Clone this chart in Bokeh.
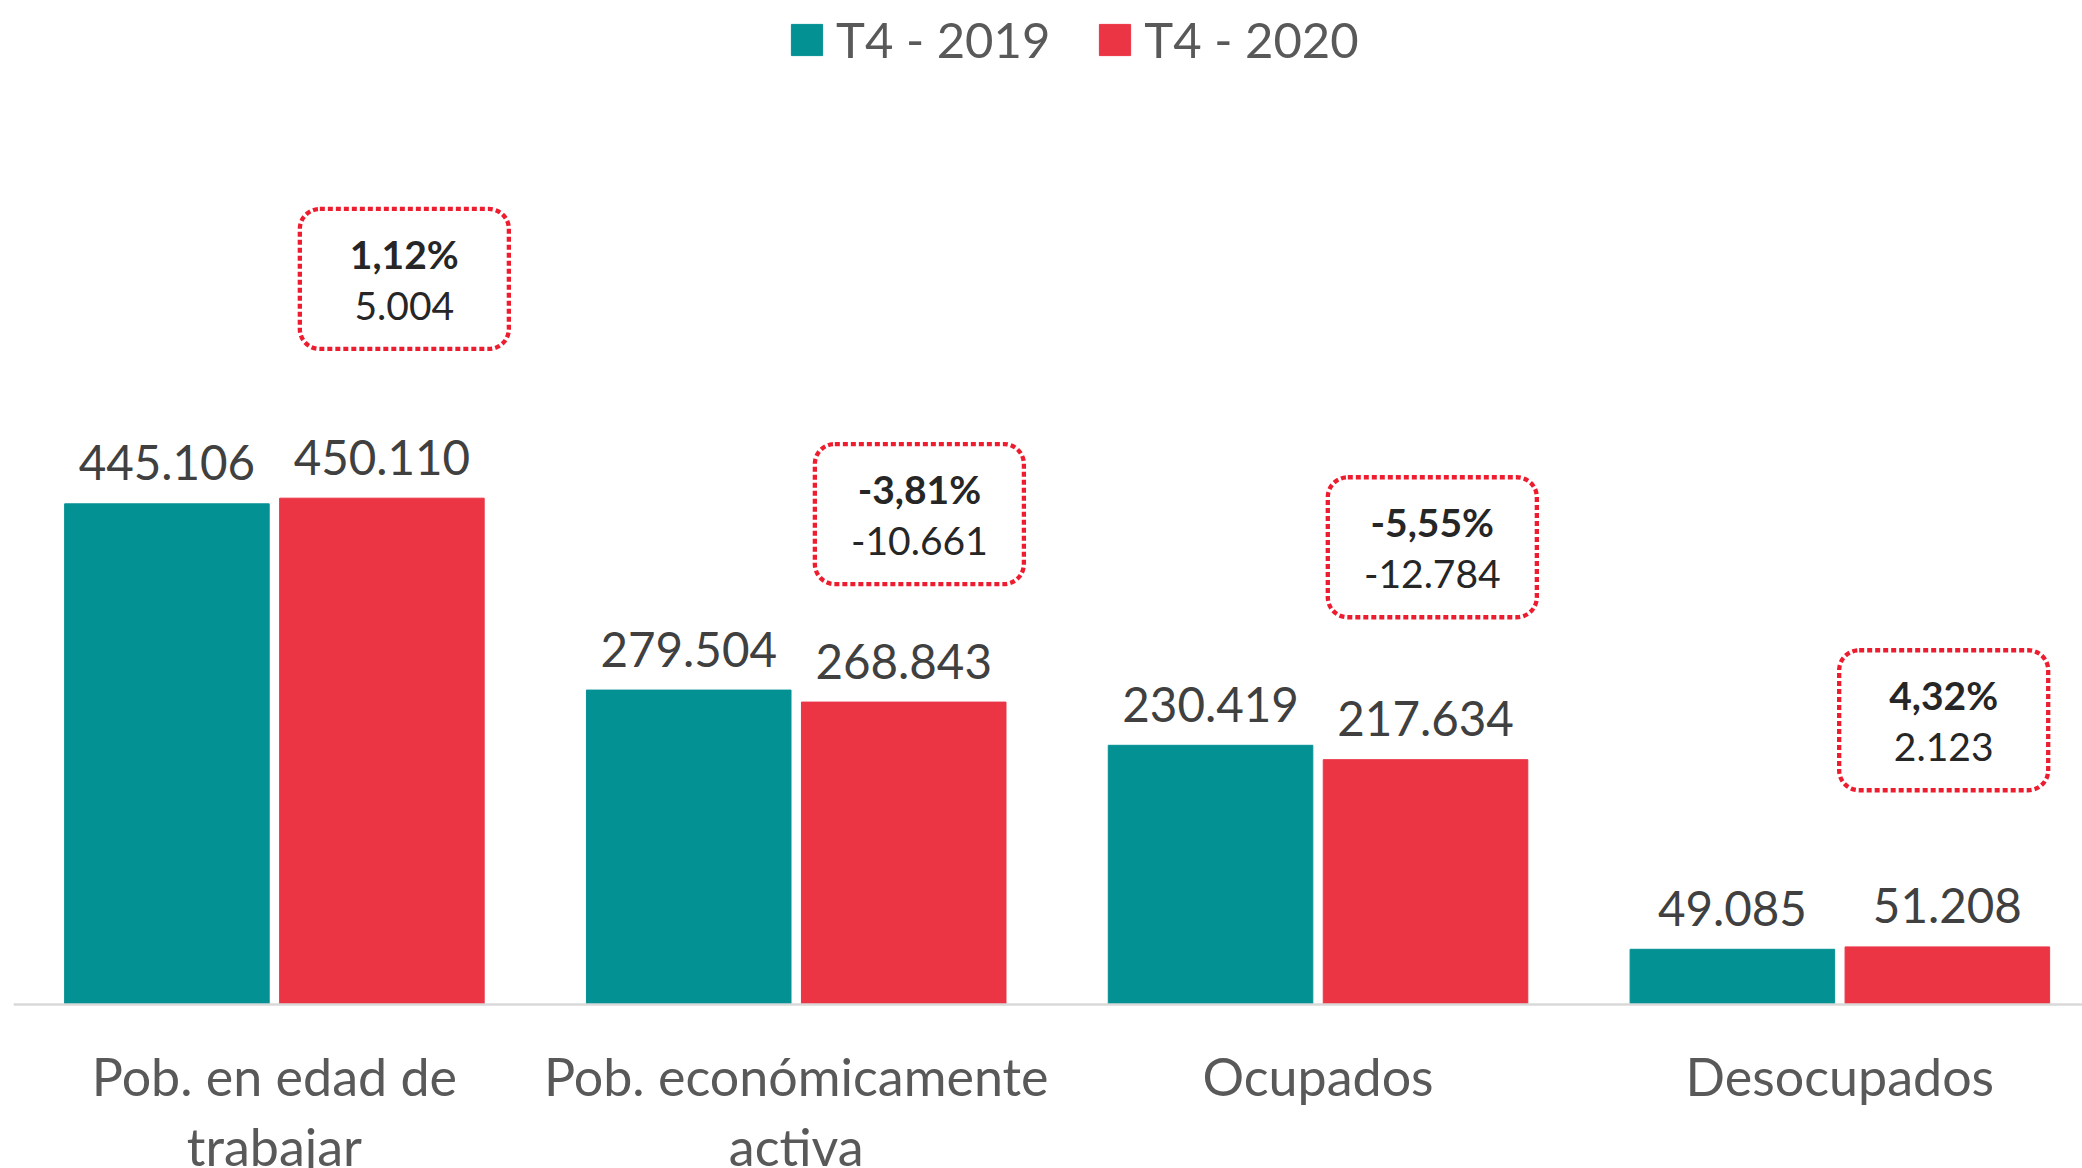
from bokeh.plotting import figure
from bokeh.models import (Range1d, FixedTicker, BoxAnnotation, ColumnDataSource,
                          Legend, LegendItem)
from bokeh.transform import dodge
from bokeh.core.properties import value
from bokeh.embed import file_html
from bokeh.resources import INLINE

# ---------------- data ----------------
categories = ["Pob. en edad de\ntrabajar", "Pob. económicamente\nactiva", "Ocupados", "Desocupados"]
series_names = ["T4 - 2019", "T4 - 2020"]
t4_2019 = [445106, 279504, 230419, 49085]
t4_2020 = [450110, 268843, 217634, 51208]
pct_change = ["1,12%", "-3,81%", "-5,55%", "4,32%"]
abs_change = ["5.004", "-10.661", "-12.784", "2.123"]

# ---------------- layout (annotation box placement) ----------------
box_x = [0.749, 1.736, 2.719, 3.699]
box_y = [645000, 436000, 406500, 252700]
BOX_HALF_W = 0.2003
BOX_HALF_H = 62230

TEAL = "#049194"
RED = "#EB3545"
DOT_RED = "#ED1C2E"
FONT = "Lato"


def fmt(v):
    return f"{v:,}".replace(",", ".")


xs = [i + 0.5 for i in range(len(categories))]
src = ColumnDataSource(dict(
    x=xs, v19=t4_2019, v20=t4_2020,
    l19=[fmt(v) for v in t4_2019], l20=[fmt(v) for v in t4_2020],
))
bsrc = ColumnDataSource(dict(bx=box_x, by=box_y, pct=pct_change, diff=abs_change))

p = figure(width=2082, height=1168, x_range=Range1d(0, 3.965), y_range=Range1d(-145800, 892550),
           output_backend="svg", toolbar_location=None,
           min_border_left=13, min_border_right=0, min_border_top=0, min_border_bottom=0)
p.outline_line_color = None
p.grid.visible = False
p.yaxis.visible = False

OFF = 0.206
BW = 0.392
r1 = p.vbar(x=dodge("x", -OFF), top="v19", width=BW, source=src, color=TEAL)
r2 = p.vbar(x=dodge("x", OFF), top="v20", width=BW, source=src, color=RED)

for col, val, lab in ((-OFF, "v19", "l19"), (OFF, "v20", "l20")):
    p.text(x=dodge("x", col), y=val, text=lab, source=src,
           text_align="center", text_baseline="alphabetic", y_offset=-41,
           text_font=value(FONT), text_font_size="47.5px", text_color="#404040")

for bx, by in zip(box_x, box_y):
    p.add_layout(BoxAnnotation(left=bx - BOX_HALF_W, right=bx + BOX_HALF_W,
                               bottom=by - BOX_HALF_H, top=by + BOX_HALF_H,
                               fill_color=None, fill_alpha=0, line_color=DOT_RED,
                               line_alpha=1.0, line_width=4.3,
                               line_dash="5 3", border_radius=20))

p.text(x="bx", y="by", text="pct", source=bsrc, y_offset=-25,
       text_align="center", text_baseline="alphabetic",
       text_font=value(FONT), text_font_style="bold", text_font_size="39px", text_color="#262626")
p.text(x="bx", y="by", text="diff", source=bsrc, y_offset=27,
       text_align="center", text_baseline="alphabetic",
       text_font=value(FONT), text_font_size="39px", text_color="#262626")

ax = p.xaxis[0]
ax.fixed_location = 0
ax.ticker = FixedTicker(ticks=xs)
ax.major_label_overrides = {x: c for x, c in zip(xs, categories)}
ax.major_tick_line_color = None
ax.minor_tick_line_color = None
ax.axis_line_color = "#D9D9D9"
ax.axis_line_width = 2.3
ax.major_label_standoff = 35
ax.major_label_text_font = FONT
ax.major_label_text_font_size = "52px"
ax.major_label_text_line_height = 1.12
ax.major_label_text_color = "#595959"

legend = Legend(items=[LegendItem(label=series_names[0], renderers=[r1]),
                       LegendItem(label=series_names[1], renderers=[r2])],
                orientation="horizontal", location=(774, 1100),
                glyph_width=39, glyph_height=39, label_standoff=10, spacing=45,
                padding=0, margin=0, border_line_color=None, background_fill_alpha=0,
                label_text_font=FONT, label_text_font_size="49px", label_text_color="#595959")
p.add_layout(legend)

open("out.html", "w").write(file_html(p, INLINE))
